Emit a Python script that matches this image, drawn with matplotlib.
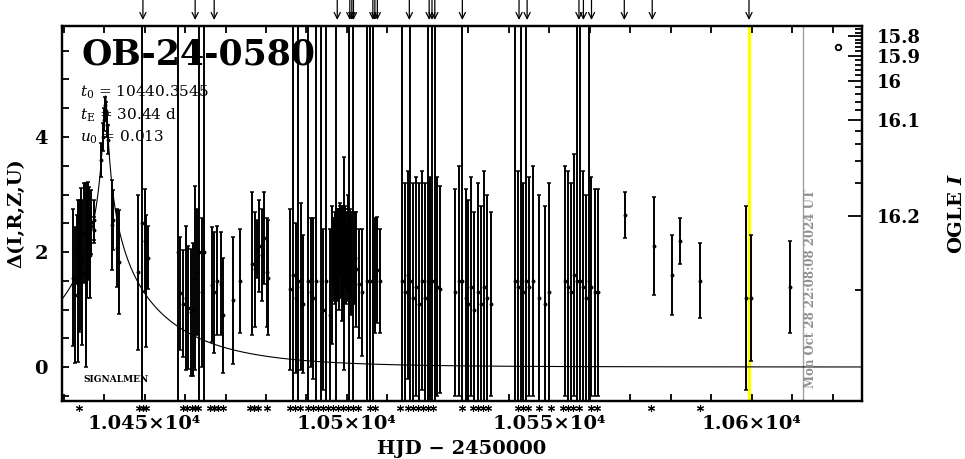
import matplotlib
matplotlib.use("Agg")
import matplotlib.pyplot as plt
import matplotlib.transforms as mtransforms
import numpy as np

plt.rcParams['font.family'] = ['DejaVu Serif']
plt.rcParams['mathtext.fontset'] = 'dejavuserif'

# event parameters
event_name = "OB-24-0580"
t0 = 10440.3545
tE = 30.44
u0 = 0.013
I_base = 16.2264
f_source = 0.0024

# observations: HJD-2450000, delta, error
obs_t = [10432.4, 10432.9, 10433.2, 10433.5, 10433.9, 10434.0, 10434.3, 10434.6, 10435.1, 10435.5,
         10435.8, 10436.0, 10436.4, 10436.6, 10436.8, 10437.4, 10437.6,
         10439.3, 10439.7, 10440.0, 10440.3, 10440.5, 10440.8, 10441.0,
         10442.0, 10442.3, 10443.1, 10443.6,
         10448.5, 10449.3, 10450.1, 10450.4, 10450.8,
         10458.3, 10458.8, 10459.6, 10460.2, 10460.8, 10461.5, 10462.0, 10462.5, 10462.9, 10463.5,
         10464.1, 10464.7, 10466.6, 10467.2, 10467.8, 10468.8, 10469.5, 10471.8, 10473.6,
         10476.5, 10477.3, 10477.8, 10478.3, 10478.9, 10479.5, 10480.2, 10480.6,
         10486.0, 10486.6, 10487.3, 10488.0, 10488.6, 10489.2, 10490.4, 10491.2, 10491.5, 10492.3,
         10493.5, 10494.1, 10494.8, 10495.8, 10496.3, 10496.7, 10497.0, 10497.3, 10497.6, 10497.9,
         10498.2, 10498.5, 10498.8, 10499.1, 10499.3, 10499.6, 10499.9, 10500.2, 10500.5, 10500.8,
         10501.1, 10501.6, 10501.9, 10502.3, 10503.0, 10503.6, 10504.9, 10505.7, 10506.4, 10506.9,
         10507.5, 10508.2,
         10496.5, 10496.9, 10497.15, 10497.45, 10497.75, 10498.05, 10498.35, 10498.65, 10498.95, 10499.45,
         10499.75, 10500.05, 10500.35, 10500.65, 10500.95,
         10513.5, 10514.3, 10515.1, 10515.5, 10516.3, 10517.0, 10517.8, 10518.5, 10519.3, 10520.0,
         10520.6, 10521.0, 10521.7, 10522.3, 10523.0,
         10526.8, 10527.6, 10528.4, 10529.3, 10530.0, 10530.7, 10531.5, 10532.3, 10533.0, 10533.8,
         10534.6, 10535.5,
         10541.5, 10542.3, 10542.9, 10543.6, 10544.2, 10545.0, 10546.0, 10547.5, 10549.0, 10550.0,
         10553.8, 10554.6, 10555.3, 10556.0, 10556.7, 10557.5, 10558.2, 10559.0, 10559.7, 10560.4,
         10561.2, 10562.0,
         10568.6, 10575.8, 10580.2, 10582.2, 10587.2, 10598.6, 10599.9, 10609.4]
obs_d = [1.55, 1.25, 2.05, 1.50, 1.73, 2.20, 1.88, 1.65, 2.33, 1.60,
         2.10, 2.37, 2.33, 1.95, 2.52, 2.56, 2.38,
         3.60, 4.00, 4.30, 4.55, 4.45, 4.20, 3.95,
         2.47, 2.56, 2.07, 1.83,
         1.65, 2.50, 2.20, 1.50, 1.90,
         2.00, 1.28, 1.10, 1.20, 1.03, 0.95, 1.00, 1.55, 1.65, 2.00,
         1.30, 2.00, 1.43, 1.30, 1.50, 1.45, 0.90, 1.16, 1.50,
         1.80, 1.70, 2.05, 2.10, 1.95, 2.25, 1.65, 1.55,
         1.35, 1.60, 1.20, 1.50, 1.40, 1.10, 1.50, 1.30, 1.20, 1.50,
         1.50, 1.00, 1.50, 0.90, 1.60, 2.00, 1.80, 1.50, 2.10, 1.90,
         2.20, 2.00, 1.70, 2.30, 1.80, 2.10, 1.90, 2.20, 1.50, 2.00,
         1.80, 1.50, 1.90, 1.70, 1.45, 1.30, 1.50, 1.50, 1.50, 1.60,
         1.69, 1.50,
         2.05, 1.85, 2.25, 1.95, 2.15, 1.75, 2.35, 2.05, 1.90, 2.20,
         1.80, 2.10, 1.95, 2.25, 1.85,
         1.50, 1.30, 1.60, 1.50, 1.20, 1.40, 1.10, 1.50, 1.20, 1.50,
         1.30, 1.50, 1.50, 1.40, 1.35,
         1.30, 1.50, 1.50, 1.20, 1.10, 1.40, 1.00, 1.30, 1.10, 1.40,
         1.20, 1.10,
         1.50, 1.40, 1.50, 1.30, 1.50, 1.40, 1.50, 1.20, 1.10, 1.30,
         1.50, 1.40, 1.30, 1.60, 1.50, 1.50, 1.40, 1.20, 1.50, 1.40,
         1.30, 1.30,
         2.64, 2.10, 1.60, 2.20, 1.50, 1.20, 1.20, 1.40]
obs_e = [1.19, 1.18, 0.60, 1.41, 1.12, 0.70, 1.23, 1.26, 0.87, 1.60,
         0.90, 0.85, 0.80, 0.75, 0.55, 0.35, 0.23,
         0.30, 0.25, 0.20, 0.15, 0.15, 0.20, 0.25,
         0.78, 0.52, 0.67, 0.90,
         1.35, 6.00, 0.90, 1.15, 0.55,
         6.00, 0.98, 0.93, 1.25, 1.07, 1.10, 1.15, 1.60, 1.10, 6.00,
         1.30, 6.00, 1.00, 1.05, 0.95, 0.90, 1.00, 1.10, 0.90,
         1.25, 1.00, 0.50, 0.80, 0.80, 0.80, 0.95, 1.00,
         1.40, 6.00, 1.30, 6.00, 1.45, 1.20, 6.00, 1.30, 1.40, 6.00,
         6.00, 1.40, 6.00, 1.50, 1.20, 0.60, 0.70, 6.00, 0.50, 0.70,
         0.60, 0.80, 0.90, 0.50, 1.85, 0.70, 0.60, 0.80, 6.00, 0.70,
         0.90, 6.00, 0.80, 1.00, 0.95, 1.10, 6.00, 6.00, 6.00, 1.00,
         0.92, 0.90,
         0.55, 0.70, 0.45, 0.80, 0.60, 0.75, 0.50, 0.65, 0.85, 0.55,
         0.70, 0.60, 0.80, 0.50, 0.65,
         6.00, 1.90, 1.80, 6.00, 2.00, 1.90, 2.10, 1.90, 2.00, 6.00,
         2.00, 6.00, 6.00, 1.90, 1.80,
         1.80, 2.00, 6.00, 1.90, 1.80, 1.90, 1.70, 1.90, 1.70, 2.00,
         1.80, 1.60,
         6.00, 2.00, 6.00, 1.90, 6.00, 1.90, 2.00, 1.80, 1.70, 1.90,
         2.00, 2.00, 1.90, 2.10, 6.00, 6.00, 2.00, 1.80, 6.00, 1.90,
         1.80, 1.80,
         0.40, 0.85, 0.70, 0.40, 0.65, 1.60, 1.10, 0.80]

# times marked with asterisks under the axis
star_t = [10433.9, 10448.7, 10449.6, 10450.4, 10459.4, 10460.4, 10461.7, 10462.5, 10463.3, 10466.2,
          10467.2, 10468.2, 10469.5, 10476.0, 10477.0, 10478.1, 10480.3, 10485.9, 10487.2, 10488.4,
          10490.4, 10491.7, 10492.9, 10494.1, 10495.4, 10496.6, 10497.9, 10499.1, 10500.3, 10501.6,
          10502.8, 10505.7, 10506.9, 10513.1, 10515.1, 10516.4, 10517.6, 10518.8, 10520.1, 10521.3,
          10528.3, 10531.2, 10532.4, 10533.7, 10534.9, 10542.3, 10543.5, 10544.8, 10547.5, 10550.4,
          10553.4, 10554.6, 10555.9, 10557.4, 10560.4, 10561.7, 10575.2, 10587.1]

# times marked with arrows above the axis
arrow_t = [10449.6, 10462.5, 10467.2, 10497.6, 10500.7, 10501.2, 10501.6, 10506.4, 10506.9, 10507.5,
           10515.4, 10520.3, 10521.0, 10521.7, 10528.5, 10542.5, 10544.5, 10557.3, 10558.4, 10560.4,
           10568.5, 10575.4, 10599.3]

circ_t = [10621.3]
circ_d = [5.57]

yellow_t = 10599.4
now_t = 10612.6
now_label = "Mon Oct 28 22:08:08 2024 UT"

x_major = [10450, 10500, 10550, 10600]
x_minor = np.arange(10430, 10630, 10)
y_major = [0, 2, 4]
y_minor = np.arange(-0.5, 6.0, 0.5)
ogle_major = [15.8, 15.9, 16.0, 16.1, 16.2]
ogle_labels = ["15.8", "15.9", "16", "16.1", "16.2"]
ogle_minor = np.arange(15.74, 16.225, 0.02)


def magnification(t):
    u = np.sqrt(u0 ** 2 + ((t - t0) / tE) ** 2)
    return (u ** 2 + 2) / (u * np.sqrt(u ** 2 + 4))


def delta_of_mag(mag):
    return 2.5 * np.log10(1 + (10 ** (0.4 * (I_base - np.asarray(mag))) - 1) / f_source)


fig = plt.figure(figsize=(9.65, 4.59), dpi=100)
ax = fig.add_axes([0.0642, 0.1264, 0.829, 0.817])
ax.set_xlim(10429.6, 10627.2)
ax.set_ylim(-0.59, 5.93)

ax.axvline(yellow_t, color='#ffff00', lw=2.4, zorder=1)
ax.axvline(now_t, color='#a0a0a0', lw=1.0, zorder=1)

tm = np.linspace(10429.6, 10627.2, 4000)
ax.plot(tm, 2.5 * np.log10(magnification(tm)), color='k', lw=0.8, zorder=3)

ax.errorbar(obs_t, obs_d, yerr=obs_e, fmt='o', ms=1.8, color='k', ecolor='k',
            elinewidth=1.4, capsize=1.5, capthick=1.1, zorder=4)
ax.plot(circ_t, circ_d, 'o', mfc='none', mec='k', ms=4, mew=1.3, zorder=4)

ax.text(10434.8, -0.21, "SIGNALMEN", fontsize=6.5, fontweight='bold', va='center', ha='left', zorder=2)

ax.text(0.024, 0.925, event_name, transform=ax.transAxes, fontsize=25, fontweight='bold',
        va='center', ha='left')
ax.text(0.022, 0.822, r"$t_0$ = 10440.3545", transform=ax.transAxes, fontsize=11, va='center')
ax.text(0.022, 0.763, r"$t_{\rm E}$ = 30.44 d", transform=ax.transAxes, fontsize=11, va='center')
ax.text(0.022, 0.704, r"$u_0$ = 0.013", transform=ax.transAxes, fontsize=11, va='center')

trans = mtransforms.blended_transform_factory(ax.transData, ax.transAxes)
ax.text(now_t + 2.0, 0.035, now_label, transform=trans, rotation=90, color='#909090',
        fontsize=8.5, fontweight='bold', ha='center', va='bottom')

ax.plot(star_t, [-0.019] * len(star_t), ls='none', marker=(6, 2, 0), ms=5, mew=0.8,
        color='k', transform=trans, clip_on=False)
for t in arrow_t:
    ax.annotate('', xy=(t, 1.016), xytext=(t, 1.069), xycoords=trans, textcoords=trans,
                arrowprops=dict(arrowstyle='->', lw=0.9, color='k', shrinkA=0, shrinkB=0,
                                mutation_scale=11), annotation_clip=False)

ax.set_xticks(x_major)
ax.set_xticklabels([f"{v / 1e4:g}×10⁴" for v in x_major])
ax.set_xticks(x_minor, minor=True)
ax.set_yticks(y_major)
ax.set_yticks(y_minor, minor=True)
ax.tick_params(axis='both', which='both', direction='in', top=True, right=False,
               width=1.3, length=5, labelsize=14, pad=10)
for s in ax.spines.values():
    s.set_linewidth(1.6)

ax.set_xlabel("HJD − 2450000", fontsize=14, fontweight='bold')
ax.xaxis.set_label_coords(0.5, -0.105)
ax.set_ylabel("Δ(I,R,Z,U)", fontsize=14, fontweight='bold')
ax.yaxis.set_label_coords(-0.046, 0.5)

ax2 = ax.twinx()
ax2.set_ylim(ax.get_ylim())
ax2.set_yticks(delta_of_mag(ogle_major))
ax2.set_yticklabels(ogle_labels)
ax2.set_yticks(delta_of_mag(ogle_minor), minor=True)
ax2.tick_params(axis='y', which='major', direction='in', length=10, width=1.3, labelsize=13, pad=11)
ax2.tick_params(axis='y', which='minor', direction='in', length=5, width=1.3)
ax2.set_ylabel(r"OGLE $\mathbfit{I}$", fontsize=14, fontweight='bold')
ax2.yaxis.set_label_coords(1.108, 0.5)
for s in ax2.spines.values():
    s.set_linewidth(1.6)

for lbl in ax.get_xticklabels() + ax.get_yticklabels() + ax2.get_yticklabels():
    lbl.set_fontweight('bold')

fig.savefig("out.png", dpi=100)
